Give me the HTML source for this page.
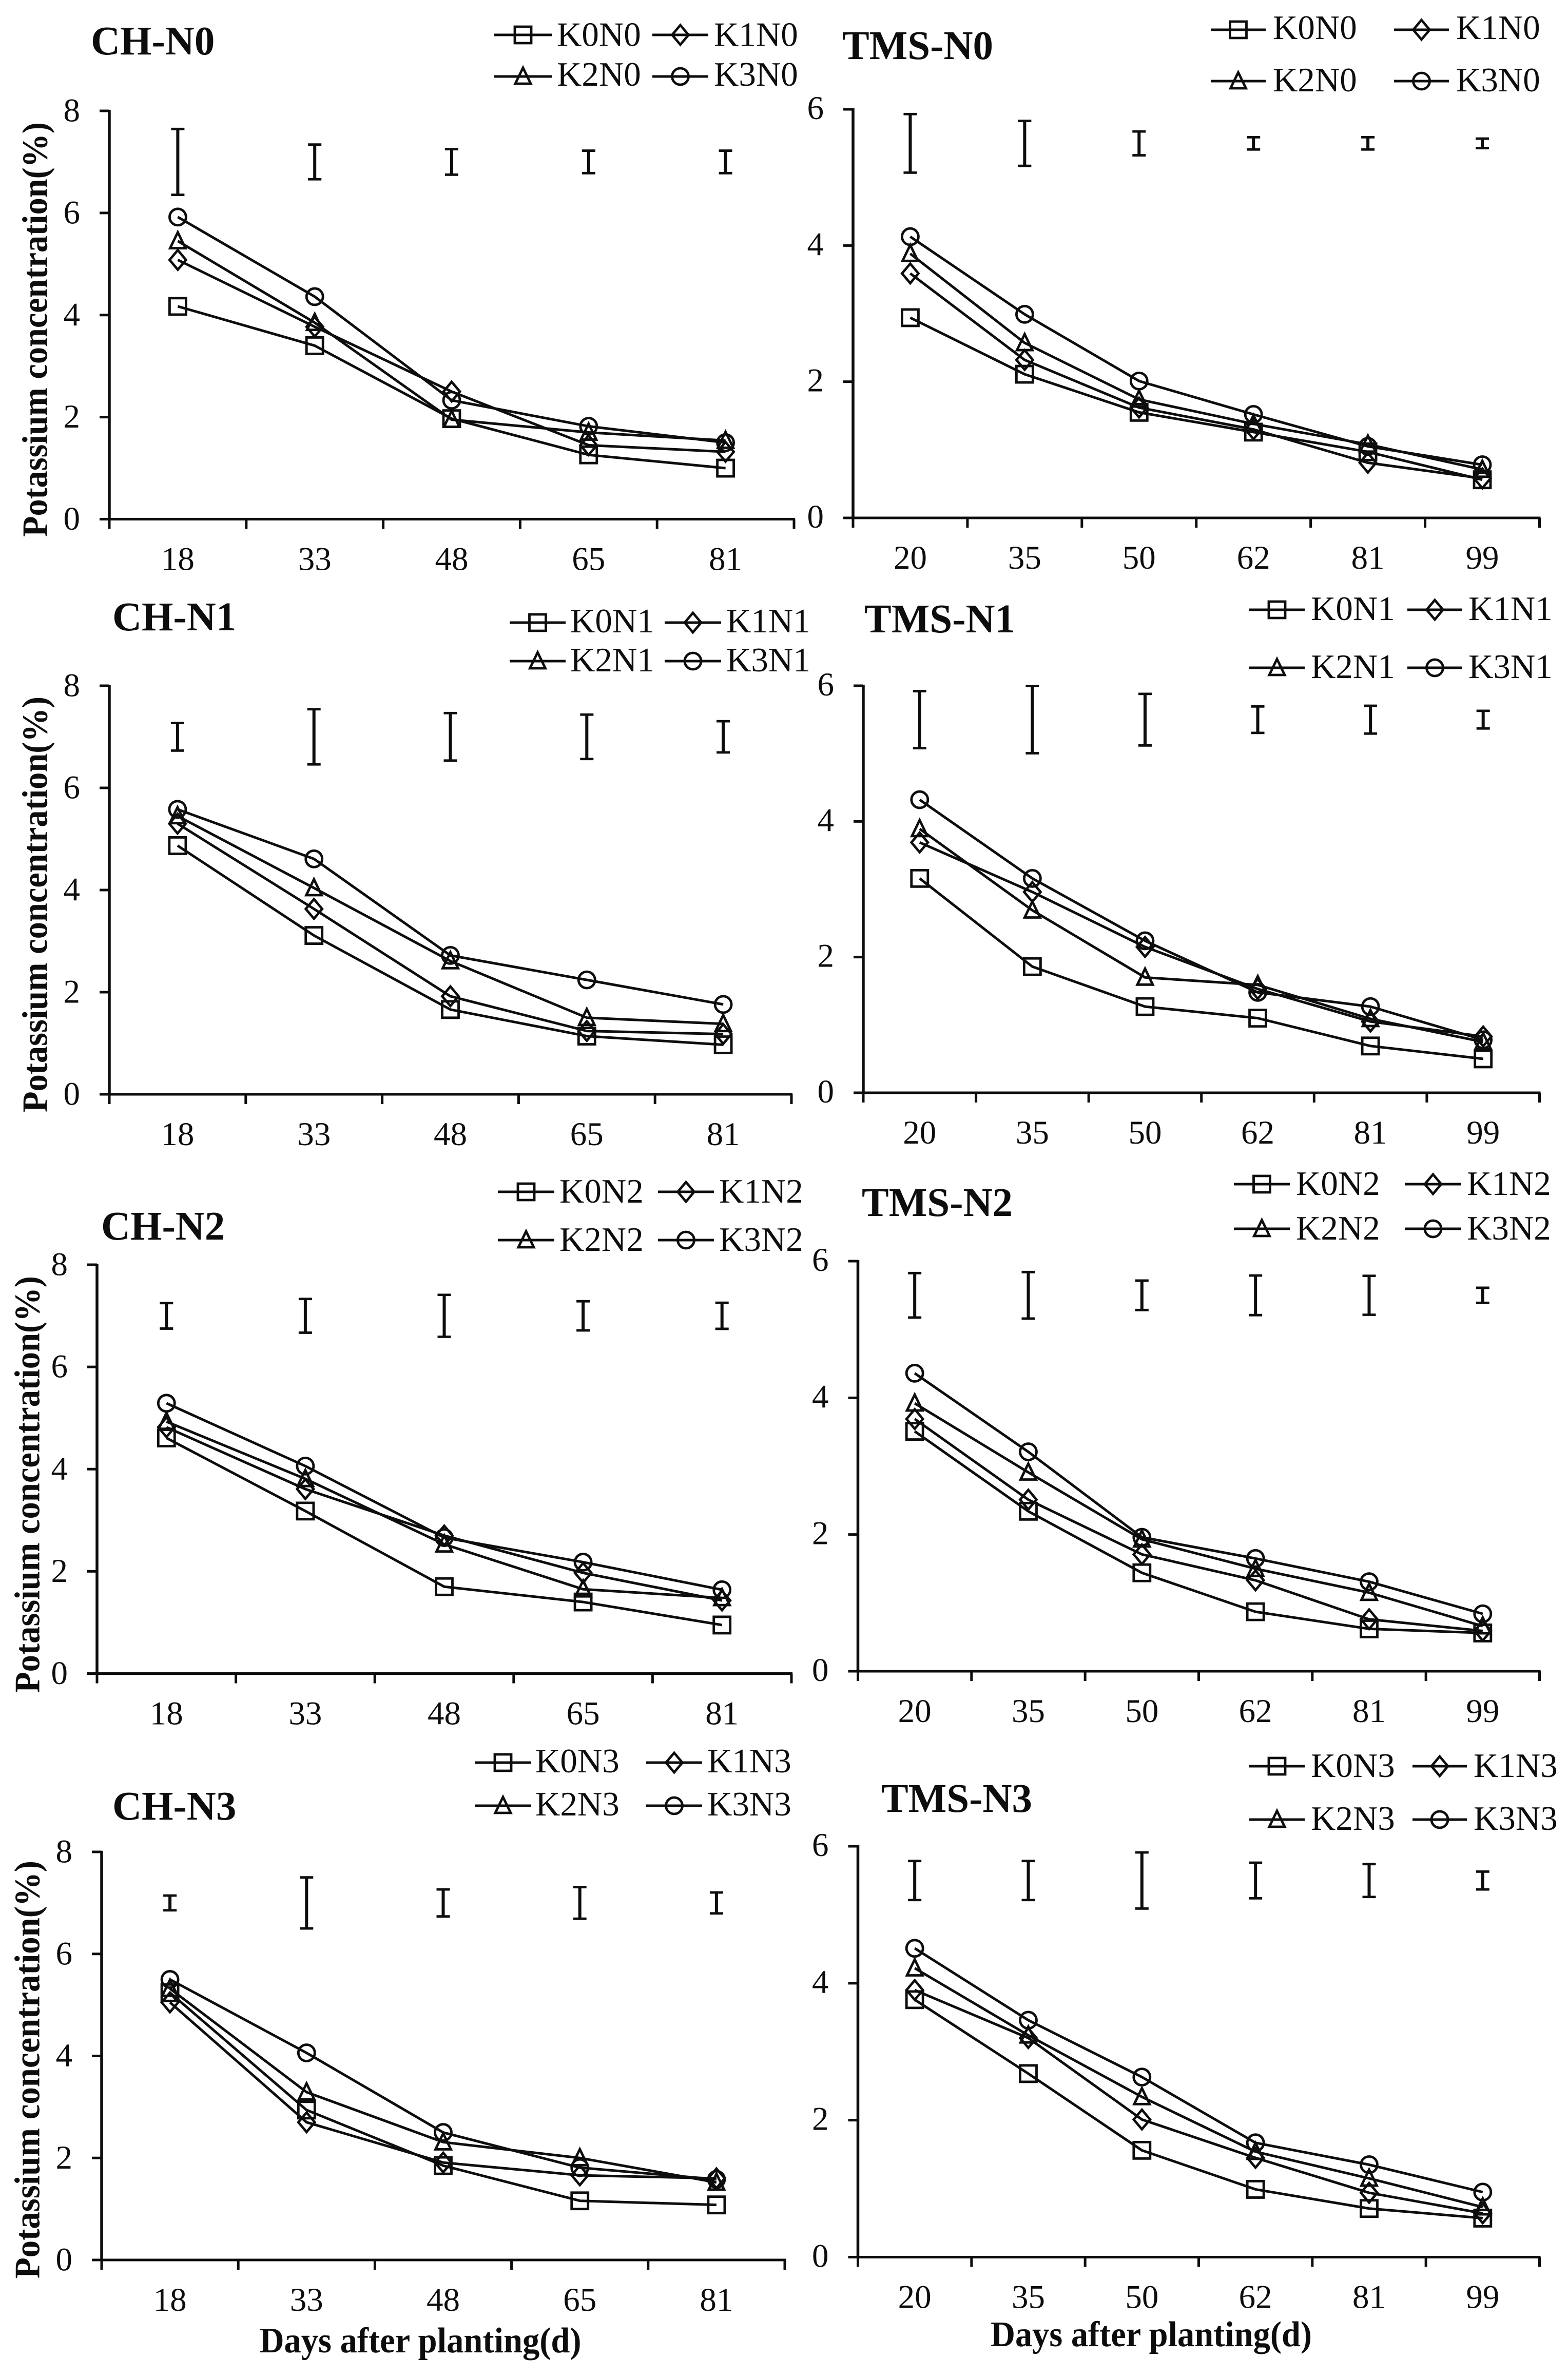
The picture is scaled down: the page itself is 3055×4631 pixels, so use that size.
<!DOCTYPE html>
<html lang="en">
<head>
<meta charset="utf-8">
<title>Potassium concentration panels</title>
<style>
html,body{margin:0;padding:0;background:#fff;width:3055px;height:4631px;overflow:hidden}
svg{display:block}
text{font-family:"Liberation Serif",serif;fill:#0d0d0d}
.title{font-size:79px;font-weight:bold}
.ytitle,.xtitle{font-size:70px;font-weight:bold}
.leg{font-size:67px}
.tick{font-size:65px}
</style>
</head>
<body>
<svg id="figure" xmlns="http://www.w3.org/2000/svg" width="3055" height="4631" viewBox="0 0 3055 4631">
<rect width="3055" height="4631" fill="#fff"/>

<g id="ch-n0">
<text class="title" x="177" y="106">CH-N0</text>
<text class="ytitle" transform="translate(91.5,642) rotate(-90)" text-anchor="middle" textLength="808" lengthAdjust="spacingAndGlyphs">Potassium concentration(%)</text>
<text class="leg" x="1085" y="89.5">K0N0</text>
<text class="leg" x="1391" y="89.5">K1N0</text>
<text class="leg" x="1085" y="167">K2N0</text>
<text class="leg" x="1391" y="167">K3N0</text>
</g>

<g id="tms-n0">
<text class="title" x="1641" y="115">TMS-N0</text>
<text class="leg" x="2480" y="76">K0N0</text>
<text class="leg" x="2837" y="76">K1N0</text>
<text class="leg" x="2480" y="178">K2N0</text>
<text class="leg" x="2837" y="178">K3N0</text>
</g>

<g id="ch-n1">
<text class="title" x="219" y="1228">CH-N1</text>
<text class="ytitle" transform="translate(91.5,1762) rotate(-90)" text-anchor="middle" textLength="810" lengthAdjust="spacingAndGlyphs">Potassium concentration(%)</text>
<text class="leg" x="1111" y="1232">K0N1</text>
<text class="leg" x="1415" y="1232">K1N1</text>
<text class="leg" x="1111" y="1308">K2N1</text>
<text class="leg" x="1415" y="1308">K3N1</text>
</g>

<g id="tms-n1">
<text class="title" x="1684" y="1232">TMS-N1</text>
<text class="leg" x="2554" y="1208">K0N1</text>
<text class="leg" x="2861" y="1208">K1N1</text>
<text class="leg" x="2554" y="1321">K2N1</text>
<text class="leg" x="2861" y="1321">K3N1</text>
</g>

<g id="ch-n2">
<text class="title" x="197" y="2415">CH-N2</text>
<text class="ytitle" transform="translate(76.5,2892) rotate(-90)" text-anchor="middle" textLength="812" lengthAdjust="spacingAndGlyphs">Potassium concentration(%)</text>
<text class="leg" x="1090" y="2343">K0N2</text>
<text class="leg" x="1401" y="2343">K1N2</text>
<text class="leg" x="1090" y="2437">K2N2</text>
<text class="leg" x="1401" y="2437">K3N2</text>
</g>

<g id="tms-n2">
<text class="title" x="1679" y="2369">TMS-N2</text>
<text class="leg" x="2525" y="2328">K0N2</text>
<text class="leg" x="2858" y="2328">K1N2</text>
<text class="leg" x="2525" y="2415">K2N2</text>
<text class="leg" x="2858" y="2415">K3N2</text>
</g>

<g id="ch-n3">
<text class="title" x="219" y="3545">CH-N3</text>
<text class="ytitle" transform="translate(76.5,4032) rotate(-90)" text-anchor="middle" textLength="814" lengthAdjust="spacingAndGlyphs">Potassium concentration(%)</text>
<text class="xtitle" x="819" y="4583" text-anchor="middle" textLength="627" lengthAdjust="spacingAndGlyphs">Days after planting(d)</text>
<text class="leg" x="1043" y="3453">K0N3</text>
<text class="leg" x="1378" y="3453">K1N3</text>
<text class="leg" x="1043" y="3537">K2N3</text>
<text class="leg" x="1378" y="3537">K3N3</text>
</g>

<g id="tms-n3">
<text class="title" x="1717" y="3530">TMS-N3</text>
<text class="xtitle" x="2243" y="4571" text-anchor="middle" textLength="626" lengthAdjust="spacingAndGlyphs">Days after planting(d)</text>
<text class="leg" x="2554" y="3462">K0N3</text>
<text class="leg" x="2871" y="3462">K1N3</text>
<text class="leg" x="2554" y="3565">K2N3</text>
<text class="leg" x="2871" y="3565">K3N3</text>
</g>
</svg>

<script>
// Category and tick labels
const chDays = ['18','33','48','65','81'];
const tmsDays = ['20','35','50','62','81','99'];
const chYTicks = [0,2,4,6,8];
const tmsYTicks = [0,2,4,6];
const chErrCenter = 7;
const tmsErrCenter = 5.5;

// CH-N0
const chN0K0 = [4.17,3.40,1.97,1.26,1.00];
const chN0K1 = [5.08,3.77,2.50,1.45,1.32];
const chN0K2 = [5.45,3.85,1.95,1.70,1.54];
const chN0K3 = [5.92,4.36,2.33,1.82,1.50];
const chN0Err = [1.29,0.68,0.50,0.44,0.44];
// TMS-N0
const tmsN0K0 = [2.94,2.11,1.55,1.26,0.97,0.56];
const tmsN0K1 = [3.59,2.32,1.62,1.30,0.81,0.58];
const tmsN0K2 = [3.88,2.57,1.74,1.38,1.08,0.71];
const tmsN0K3 = [4.13,2.99,2.01,1.52,1.05,0.78];
const tmsN0Err = [0.86,0.66,0.35,0.18,0.18,0.14];
// CH-N1
const chN1K0 = [4.87,3.11,1.66,1.14,0.97];
const chN1K1 = [5.30,3.63,1.92,1.24,1.18];
const chN1K2 = [5.45,4.04,2.61,1.50,1.38];
const chN1K3 = [5.58,4.61,2.72,2.24,1.76];
const chN1Err = [0.54,1.08,0.93,0.87,0.61];
// TMS-N1
const tmsN1K0 = [3.16,1.86,1.27,1.10,0.69,0.50];
const tmsN1K1 = [3.69,2.96,2.15,1.53,1.05,0.83];
const tmsN1K2 = [3.89,2.69,1.70,1.59,1.09,0.75];
const tmsN1K3 = [4.32,3.16,2.24,1.48,1.27,0.78];
const tmsN1Err = [0.84,0.99,0.76,0.39,0.41,0.26];
// CH-N2
const chN2K0 = [4.61,3.18,1.70,1.40,0.95];
const chN2K1 = [4.82,3.61,2.70,1.97,1.43];
const chN2K2 = [4.93,3.81,2.53,1.65,1.48];
const chN2K3 = [5.29,4.06,2.66,2.18,1.64];
const chN2Err = [0.50,0.66,0.82,0.57,0.51];
// TMS-N2
const tmsN2K0 = [3.51,2.34,1.44,0.87,0.62,0.56];
const tmsN2K1 = [3.69,2.51,1.71,1.33,0.76,0.59];
const tmsN2K2 = [3.92,2.91,1.93,1.50,1.15,0.66];
const tmsN2K3 = [4.36,3.21,1.96,1.65,1.31,0.84];
const tmsN2Err = [0.65,0.68,0.43,0.58,0.57,0.22];
// CH-N3
const chN3K0 = [5.24,2.94,1.85,1.16,1.08];
const chN3K1 = [5.05,2.70,1.91,1.66,1.60];
const chN3K2 = [5.32,3.29,2.31,2.00,1.52];
const chN3K3 = [5.50,4.06,2.50,1.81,1.58];
const chN3Err = [0.29,1.00,0.53,0.62,0.41];
// TMS-N3
const tmsN3K0 = [3.76,2.68,1.56,0.99,0.71,0.57];
const tmsN3K1 = [3.90,3.20,2.01,1.45,0.94,0.64];
const tmsN3K2 = [4.22,3.24,2.34,1.54,1.15,0.73];
const tmsN3K3 = [4.51,3.46,2.63,1.67,1.35,0.95];
const tmsN3Err = [0.57,0.57,0.82,0.52,0.48,0.26];

const panels = [
 {id:'ch-n0', left:213, right:1547, top:216, base:1011.5, max:8, labelDy:20.5, days:chDays, ticks:chYTicks, center:chErrCenter, err:chN0Err, series:[chN0K0,chN0K1,chN0K2,chN0K3], legX:[[963,1075],[1271,1380]], legY:[68,149]},
 {id:'tms-n0', left:1662, right:2999.5, top:213, base:1009, max:6, labelDy:19, days:tmsDays, ticks:tmsYTicks, center:tmsErrCenter, err:tmsN0Err, series:[tmsN0K0,tmsN0K1,tmsN0K2,tmsN0K3], legX:[[2359,2466],[2716,2823]], legY:[58,158]},
 {id:'ch-n1', left:213, right:1542, top:1336, base:2132, max:8, labelDy:20.5, days:chDays, ticks:chYTicks, center:chErrCenter, err:chN1Err, series:[chN1K0,chN1K1,chN1K2,chN1K3], legX:[[993,1102],[1295,1405]], legY:[1213,1288]},
 {id:'tms-n1', left:1682, right:2999.5, top:1336, base:2129, max:6, labelDy:19, days:tmsDays, ticks:tmsYTicks, center:tmsErrCenter, err:tmsN1Err, series:[tmsN1K0,tmsN1K1,tmsN1K2,tmsN1K3], legX:[[2434,2542],[2742,2849]], legY:[1188,1301]},
 {id:'ch-n2', left:189, right:1542, top:2464, base:3260.5, max:8, labelDy:20.5, days:chDays, ticks:chYTicks, center:chErrCenter, err:chN2Err, series:[chN2K0,chN2K1,chN2K2,chN2K3], legX:[[970,1080],[1282,1391]], legY:[2322,2416]},
 {id:'tms-n2', left:1671.5, right:2999.5, top:2457, base:3256, max:6, labelDy:19, days:tmsDays, ticks:tmsYTicks, center:tmsErrCenter, err:tmsN2Err, series:[tmsN2K0,tmsN2K1,tmsN2K2,tmsN2K3], legX:[[2404,2513],[2737,2847]], legY:[2307,2394]},
 {id:'ch-n3', left:198, right:1529, top:3608, base:4403, max:8, labelDy:20.5, days:chDays, ticks:chYTicks, center:chErrCenter, err:chN3Err, series:[chN3K0,chN3K1,chN3K2,chN3K3], legX:[[925,1035],[1259,1368]], legY:[3434,3518]},
 {id:'tms-n3', left:1671.5, right:2999.5, top:3597, base:4397.5, max:6, labelDy:19, days:tmsDays, ticks:tmsYTicks, center:tmsErrCenter, err:tmsN3Err, series:[tmsN3K0,tmsN3K1,tmsN3K2,tmsN3K3], legX:[[2434,2542],[2752,2858]], legY:[3441,3545]}
];

const NS = 'http://www.w3.org/2000/svg';
const INK = '#0d0d0d';

function strokeLine(parent, x1, y1, x2, y2, w) {
  const el = document.createElementNS(NS, 'line');
  el.setAttribute('x1', x1);
  el.setAttribute('y1', y1);
  el.setAttribute('x2', x2);
  el.setAttribute('y2', y2);
  el.setAttribute('stroke', INK);
  el.setAttribute('stroke-width', w);
  parent.appendChild(el);
  return el;
}

function markerPath(kind, cx, cy) {
  if (kind === 0) return `M${cx-16} ${cy-16}H${cx+16}V${cy+16}H${cx-16}Z`;
  if (kind === 1) return `M${cx} ${cy-19}L${cx+16} ${cy}L${cx} ${cy+19}L${cx-16} ${cy}Z`;
  if (kind === 2) return `M${cx} ${cy-17}L${cx+15} ${cy+14}H${cx-15}Z`;
  return `M${cx-16} ${cy}A16 16 0 1 0 ${cx+16} ${cy}A16 16 0 1 0 ${cx-16} ${cy}Z`;
}

function drawMarker(parent, kind, cx, cy) {
  const el = document.createElementNS(NS, 'path');
  el.setAttribute('d', markerPath(kind, cx, cy));
  el.setAttribute('fill', 'none');
  el.setAttribute('stroke', INK);
  el.setAttribute('stroke-width', 4.8);
  parent.appendChild(el);
  return el;
}

function drawPanel(p) {
  const host = document.getElementById(p.id);
  const n = p.days.length;
  const step = (p.right - p.left) / n;
  const xScale = i => p.left + (i + 0.5) * step;
  const yScale = v => p.base - (v / p.max) * (p.base - p.top);

  // axes
  const yAxis = strokeLine(host, p.left, p.top - 2, p.left, p.base + 2, 5.5);
  
  
  const xAxis = strokeLine(host, p.left - 19, p.base, p.right + 2, p.base, 5);
  
  

  p.ticks.forEach(t => {
    const y = yScale(t);
    const mark = strokeLine(host, p.left - 19, y, p.left, y, 5);
    
    
    const label = document.createElementNS(NS, 'text');
    label.setAttribute('class', 'tick');
    label.setAttribute('x', p.left - 57);
    label.setAttribute('y', y + p.labelDy);
    label.setAttribute('text-anchor', 'end');
    label.textContent = t;
    
    
    host.appendChild(label);
  });

  for (let i = 0; i <= n; i++) {
    const x = p.left + i * step;
    const mark = strokeLine(host, x, p.base, x, p.base + 19, 5);
    
    
  }
  p.days.forEach((d, i) => {
    const label = document.createElementNS(NS, 'text');
    label.setAttribute('class', 'tick');
    label.setAttribute('x', xScale(i));
    label.setAttribute('y', p.base + 99);
    label.setAttribute('text-anchor', 'middle');
    label.textContent = d;
    
    
    host.appendChild(label);
  });

  // error bars
  p.err.forEach((e, i) => {
    const x = xScale(i);
    const yHi = yScale(p.center + e / 2);
    const yLo = yScale(p.center - e / 2);
    const bar = strokeLine(host, x, yHi, x, yLo, 6);
    
    
    const capTop = strokeLine(host, x - 13, yHi, x + 13, yHi, 4.8);
    
    
    const capBottom = strokeLine(host, x - 13, yLo, x + 13, yLo, 4.8);
    
    
  });

  // series
  p.series.forEach((vals, s) => {
    const line = document.createElementNS(NS, 'polyline');
    line.setAttribute('points', vals.map((v, i) => xScale(i) + ',' + yScale(v)).join(' '));
    line.setAttribute('fill', 'none');
    line.setAttribute('stroke', INK);
    line.setAttribute('stroke-width', 5);
    line.setAttribute('stroke-linejoin', 'round');
    
    
    host.appendChild(line);
    vals.forEach((v, i) => {
      const m = drawMarker(host, s, xScale(i), yScale(v));
      
      
    });
  });

  // legend glyphs: K0 K1 on first row, K2 K3 on second
  for (let s = 0; s < 4; s++) {
    const [x1, x2] = p.legX[s % 2];
    const y = p.legY[s < 2 ? 0 : 1];
    const sw = strokeLine(host, x1, y, x2, y, 5);
    
    
    const g = drawMarker(host, s, (x1 + x2) / 2, y);
    
    
  }
}

panels.forEach(drawPanel);
</script>
</body>
</html>
